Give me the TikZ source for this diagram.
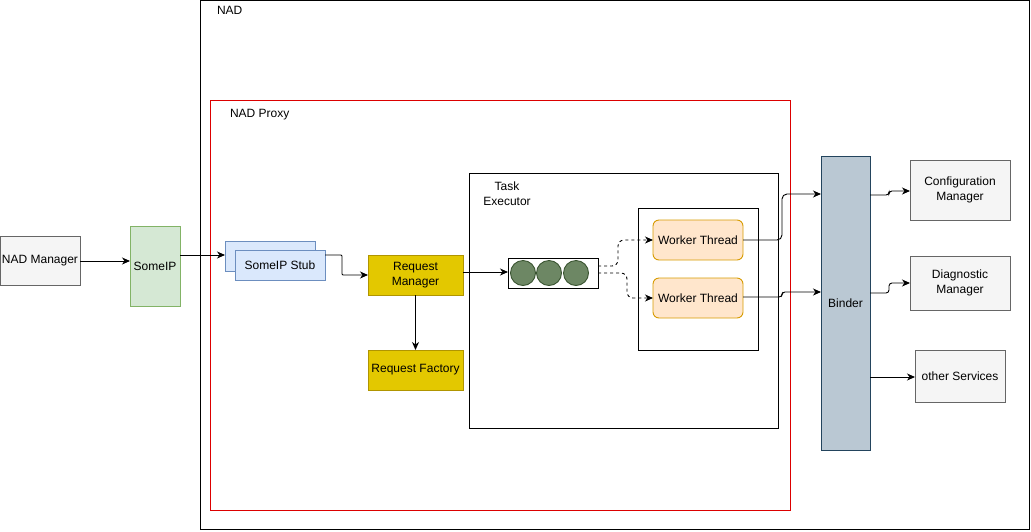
\documentclass[tikz,border=0pt]{standalone}
\usepackage{fontspec}
\setmainfont{Liberation Sans}
\usetikzlibrary{arrows.meta}
\begin{document}
\begin{tikzpicture}[x=1pt,y=-1pt,
  font=\fontsize{12}{15}\selectfont,
  every node/.style={inner sep=0pt, outer sep=0pt, align=center},
  box/.style={draw, line width=0.9pt, anchor=north west},
  grey/.style={box, fill=black!4, draw=black!60},
  green/.style={box, fill={rgb,255:red,213;green,232;blue,212}, draw={rgb,255:red,130;green,179;blue,102}},
  blue/.style={box, fill={rgb,255:red,218;green,232;blue,252}, draw={rgb,255:red,108;green,142;blue,191}},
  yellow/.style={box, fill={rgb,255:red,227;green,200;blue,0}, draw={rgb,255:red,176;green,149;blue,0}},
  worker/.style={box, rounded corners=6pt, fill={rgb,255:red,255;green,230;blue,204}, draw={rgb,255:red,215;green,155;blue,0}},
  slate/.style={box, fill={rgb,255:red,186;green,200;blue,211}, draw={rgb,255:red,35;green,68;blue,93}},
  frame/.style={box, draw=black},
  token/.style={circle, draw={rgb,255:red,58;green,84;blue,49}, fill={rgb,255:red,109;green,135;blue,100}, minimum size=25pt, line width=0.9pt},
  link/.style={line width=0.9pt, -{Stealth[length=8pt,width=7pt,inset=2.5pt]}},
  dlink/.style={link, dashed, dash pattern=on 3pt off 3pt},
]
\useasboundingbox (0,0) rectangle (1031,531);

% containers
\node[frame, line width=1.2pt, minimum width=829pt, minimum height=529pt] (nad) at (200.6,0.6) {};
\node[anchor=west] (nadlbl) at (217,10) {NAD};
\node[box, draw={rgb,255:red,220;green,0;blue,0}, minimum width=580pt, minimum height=410pt] (proxy) at (210,100) {};
\node[anchor=west] (proxylbl) at (230,115) {NAD Proxy};
\node[frame, minimum width=309pt, minimum height=255pt] (exec) at (469,173) {};
\node (execlbl) at (507,194) {Task\\Executor};
\node[frame, minimum width=120pt, minimum height=142pt] (pool) at (638,208) {};

% external side
\node[grey, minimum width=80pt, minimum height=49pt] (mgr) at (0,236) {NAD Manager};
\node[green, minimum width=50pt, minimum height=80pt] (someip) at (130,226) {SomeIP};

% stub (stacked)
\node[blue, minimum width=90pt, minimum height=30pt] (stubback) at (225,241) {};
\node[blue, minimum width=90pt, minimum height=30pt] (stub) at (235,250) {SomeIP Stub};

% request handling
\node[yellow, minimum width=95pt, minimum height=40pt] (reqmgr) at (368,255) {Request\\Manager};
\node[yellow, minimum width=95pt, minimum height=40pt] (reqfac) at (368,350) {Request Factory};

% queue
\node[frame, minimum width=90pt, minimum height=30pt] (queue) at (508,258) {};
\node[token] (t1) at (523,273) {};
\node[token] (t2) at (549,273) {};
\node[token] (t3) at (576,273) {};

% workers
\node[worker, minimum width=90pt, minimum height=40pt] (wt1) at (653,220) {Worker Thread};
\node[worker, minimum width=90pt, minimum height=40pt] (wt2) at (653,278) {Worker Thread};

% binder and services
\node[slate, minimum width=49pt, minimum height=294pt] (binder) at (821,156) {Binder};
\node[grey, minimum width=100pt, minimum height=60pt] (cfg) at (910,160) {Configuration\\Manager};
\node[grey, minimum width=100pt, minimum height=54pt] (diag) at (910,256) {Diagnostic\\Manager};
\node[grey, minimum width=90pt, minimum height=52pt] (other) at (915,350) {other Services};

% connectors
\draw[link] (mgr.east |- 0,261) -- (someip.west |- 0,261);
\draw[link] (someip.east |- 0,255) -- (stubback.west |- 0,255);
\draw[link, rounded corners=1pt] (stub.east |- 0,255) -- (342,255) |- (reqmgr.west |- 0,275);
\draw[link] (reqmgr.east |- 0,272) -- (queue.west |- 0,272);
\draw[link] (reqmgr.south) -- (reqfac.north);
\draw[dlink, rounded corners=6pt] (queue.east |- 0,266) -- (618,266) |- (wt1.west);
\draw[dlink, rounded corners=6pt] (queue.east |- 0,273) -- (627,273) |- (wt2.west |- 0,298);
\draw[link, rounded corners=5pt] (wt1.east) -- (782,240) |- (binder.west |- 0,194);
\draw[link, rounded corners=3pt] (wt2.east |- 0,297) -- (782,297) |- (binder.west |- 0,292);
\draw[link, rounded corners=3pt] (binder.east |- 0,195) -- (889,195) |- (cfg.west |- 0,191);
\draw[link, rounded corners=3pt] (binder.east |- 0,293) -- (889,293) |- (diag.west |- 0,283);
\draw[link] (binder.east |- 0,377) -- (other.west |- 0,377);
\end{tikzpicture}
\end{document}
